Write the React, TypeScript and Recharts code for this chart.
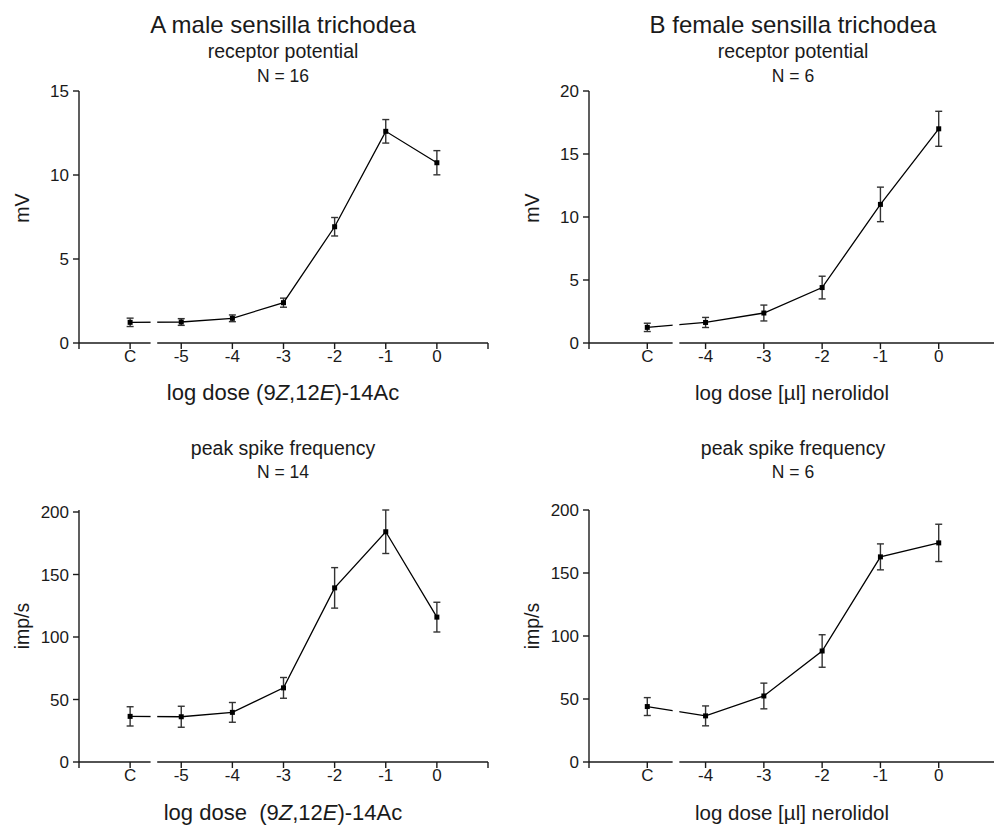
import React from 'react';
import { LineChart, Line, XAxis, YAxis, ErrorBar, ReferenceArea } from 'recharts';

// ── data ────────────────────────────────────────────────────

const dosesMale = ['C', '-5', '-4', '-3', '-2', '-1', '0'];
const dosesFemale = ['C', '-4', '-3', '-2', '-1', '0'];

const mvMale = [1.23, 1.25, 1.47, 2.4, 6.92, 12.6, 10.73];
const mvMaleErr = [0.25, 0.2, 0.2, 0.27, 0.55, 0.7, 0.72];

const mvFemale = [1.24, 1.63, 2.38, 4.4, 11.0, 17.0];
const mvFemaleErr = [0.33, 0.4, 0.63, 0.9, 1.37, 1.39];

const spikesMale = [36.5, 36.2, 39.7, 59.3, 139.3, 184.2, 115.9];
const spikesMaleErr = [7.7, 8.4, 7.9, 8.3, 16.2, 17.4, 11.9];

const spikesFemale = [44.0, 36.6, 52.4, 88.1, 162.8, 173.9];
const spikesFemaleErr = [7.1, 7.9, 10.2, 12.9, 10.3, 14.8];

const mvTicksMale = [0, 5, 10, 15];
const mvTicksFemale = [0, 5, 10, 15, 20];
const spikeTicks = [0, 50, 100, 150, 200];

const FONT = '"Liberation Sans", Arial, sans-serif';
const INK = '#1a1a1a';

function toRows(values: number[], errs: number[]) {
  return values.map((v, i) => ({ x: i + 1, y: v, err: errs[i] }));
}

function SquareDot(props: any) {
  const { cx, cy } = props;
  if (cx == null || cy == null) return null;
  return <rect x={cx - 2.5} y={cy - 2.5} width={5} height={5} fill="#000" />;
}

function XTick(props: any) {
  const { x, y, payload, tickFormatter } = props;
  const label = tickFormatter ? tickFormatter(payload.value) : payload.value;
  return (
    <text x={x} y={y + 11.5} fontSize={17} textAnchor="middle" fill={INK} fontFamily={FONT}>
      {label}
    </text>
  );
}

function YTick(props: any) {
  const { x, y, payload } = props;
  return (
    <text x={x} y={y + 6} fontSize={17} textAnchor="end" fill={INK} fontFamily={FONT}>
      {payload.value}
    </text>
  );
}

// ── one dose-response panel ─────────────────────────────────

function Panel({
  doses,
  values,
  errs,
  yTicks,
  xMax,
  gap,
  width,
  height,
  margin,
}: {
  doses: string[];
  values: number[];
  errs: number[];
  yTicks: number[];
  xMax: number;
  gap: [number, number];
  width: number;
  height: number;
  margin: { top: number; right: number; bottom: number; left: number };
}) {
  const rows = toRows(values, errs);
  const yMax = yTicks[yTicks.length - 1];
  const xTicks = Array.from({ length: doses.length + 2 }, (_, i) => i);
  const fmt = (v: any) => doses[Number(v) - 1] ?? '';
  return (
    <LineChart width={width} height={height} data={rows} margin={margin}>
      <XAxis
        dataKey="x"
        type="number"
        domain={[0, xMax]}
        ticks={xTicks}
        interval={0}
        allowDataOverflow
        tickFormatter={fmt}
        tick={(p: any) => <XTick {...p} tickFormatter={fmt} />}
        tickSize={6}
        tickMargin={1}
        height={30}
        axisLine={{ stroke: INK, strokeWidth: 1.4 }}
        tickLine={{ stroke: INK, strokeWidth: 1.4 }}
      />
      <YAxis
        type="number"
        domain={[0, yMax]}
        ticks={yTicks}
        interval={0}
        tick={(p: any) => <YTick {...p} />}
        tickSize={6}
        tickMargin={4}
        width={50}
        axisLine={{ stroke: INK, strokeWidth: 1.4 }}
        tickLine={{ stroke: INK, strokeWidth: 1.4 }}
      />
      <Line
        dataKey="y"
        type="linear"
        stroke="#000"
        strokeWidth={1.3}
        dot={<SquareDot />}
        activeDot={false}
        isAnimationActive={false}
      >
        <ErrorBar dataKey="err" width={3.5} stroke="#333" strokeWidth={1.4} direction="y" />
      </Line>
      {/* axis break between the control and the dose series */}
      <ReferenceArea
        x1={gap[0]}
        x2={gap[1]}
        y1={-yMax * 0.04}
        y2={yMax}
        fill="#fff"
        fillOpacity={1}
        stroke="none"
        ifOverflow="visible"
        zIndex={1000}
      />
    </LineChart>
  );
}

// ── figure ──────────────────────────────────────────────────

function Txt({ x, y, size, children }: { x: number; y: number; size: number; children: React.ReactNode }) {
  return (
    <text x={x} y={y} fontSize={size} textAnchor="middle" fill={INK} fontFamily={FONT}>
      {children}
    </text>
  );
}

function YTitle({ x, y, children }: { x: number; y: number; children: React.ReactNode }) {
  return (
    <text
      x={x}
      y={y}
      fontSize={19.5}
      textAnchor="middle"
      fill={INK}
      fontFamily={FONT}
      transform={`rotate(-90 ${x} ${y})`}
      dominantBaseline="central"
    >
      {children}
    </text>
  );
}

export default function App() {
  return (
    <div
      style={{
        position: 'absolute',
        left: 0,
        top: 0,
        width: 994,
        height: 825,
        overflow: 'hidden',
        background: '#fff',
        fontFamily: FONT,
      }}
    >
      <div style={{ position: 'absolute', left: 0, top: 0 }}>
        <Panel
          doses={dosesMale}
          values={mvMale}
          errs={mvMaleErr}
          yTicks={mvTicksMale}
          xMax={8}
          gap={[1.4, 1.53]}
          width={494}
          height={420}
          margin={{ top: 91, right: 6, bottom: 47, left: 29 }}
        />
      </div>
      <div style={{ position: 'absolute', left: 494, top: 0 }}>
        <Panel
          doses={dosesFemale}
          values={mvFemale}
          errs={mvFemaleErr}
          yTicks={mvTicksFemale}
          xMax={7}
          gap={[1.435, 1.55]}
          width={506}
          height={420}
          margin={{ top: 91, right: 3, bottom: 47, left: 45 }}
        />
      </div>
      <div style={{ position: 'absolute', left: 0, top: 420 }}>
        <Panel
          doses={dosesMale}
          values={spikesMale}
          errs={spikesMaleErr}
          yTicks={spikeTicks}
          xMax={8}
          gap={[1.4, 1.53]}
          width={494}
          height={405}
          margin={{ top: 90, right: 6, bottom: 33, left: 29 }}
        />
      </div>
      <div style={{ position: 'absolute', left: 494, top: 420 }}>
        <Panel
          doses={dosesFemale}
          values={spikesFemale}
          errs={spikesFemaleErr}
          yTicks={spikeTicks}
          xMax={7}
          gap={[1.435, 1.55]}
          width={506}
          height={405}
          margin={{ top: 90, right: 3, bottom: 33, left: 45 }}
        />
      </div>

      <svg
        width={994}
        height={825}
        style={{ position: 'absolute', left: 0, top: 0, pointerEvents: 'none' }}
      >
        <Txt x={283} y={33} size={24}>A male sensilla trichodea</Txt>
        <Txt x={283} y={58} size={19.5}>receptor potential</Txt>
        <Txt x={283} y={82} size={17.5}>N = 16</Txt>

        <Txt x={793} y={33} size={24}>B female sensilla trichodea</Txt>
        <Txt x={793} y={58} size={19.5}>receptor potential</Txt>
        <Txt x={793} y={82} size={17.5}>N = 6</Txt>

        <Txt x={283} y={455} size={19.5}>peak spike frequency</Txt>
        <Txt x={283} y={478} size={17.5}>N = 14</Txt>

        <Txt x={793} y={455} size={19.5}>peak spike frequency</Txt>
        <Txt x={793} y={478} size={17.5}>N = 6</Txt>

        <YTitle x={22} y={208}>mV</YTitle>
        <YTitle x={532} y={208}>mV</YTitle>
        <YTitle x={22} y={626}>imp/s</YTitle>
        <YTitle x={532} y={626}>imp/s</YTitle>

        <Txt x={283} y={400} size={22}>
          log dose (9<tspan fontStyle="italic">Z</tspan>,12<tspan fontStyle="italic">E</tspan>)-14Ac
        </Txt>
        <Txt x={283} y={820} size={22}>
          log dose{'\u00a0 '}(9<tspan fontStyle="italic">Z</tspan>,12<tspan fontStyle="italic">E</tspan>)-14Ac
        </Txt>
        <Txt x={792} y={400} size={20.5}>log dose [µl] nerolidol</Txt>
        <Txt x={792} y={820} size={20.5}>log dose [µl] nerolidol</Txt>
      </svg>
    </div>
  );
}
